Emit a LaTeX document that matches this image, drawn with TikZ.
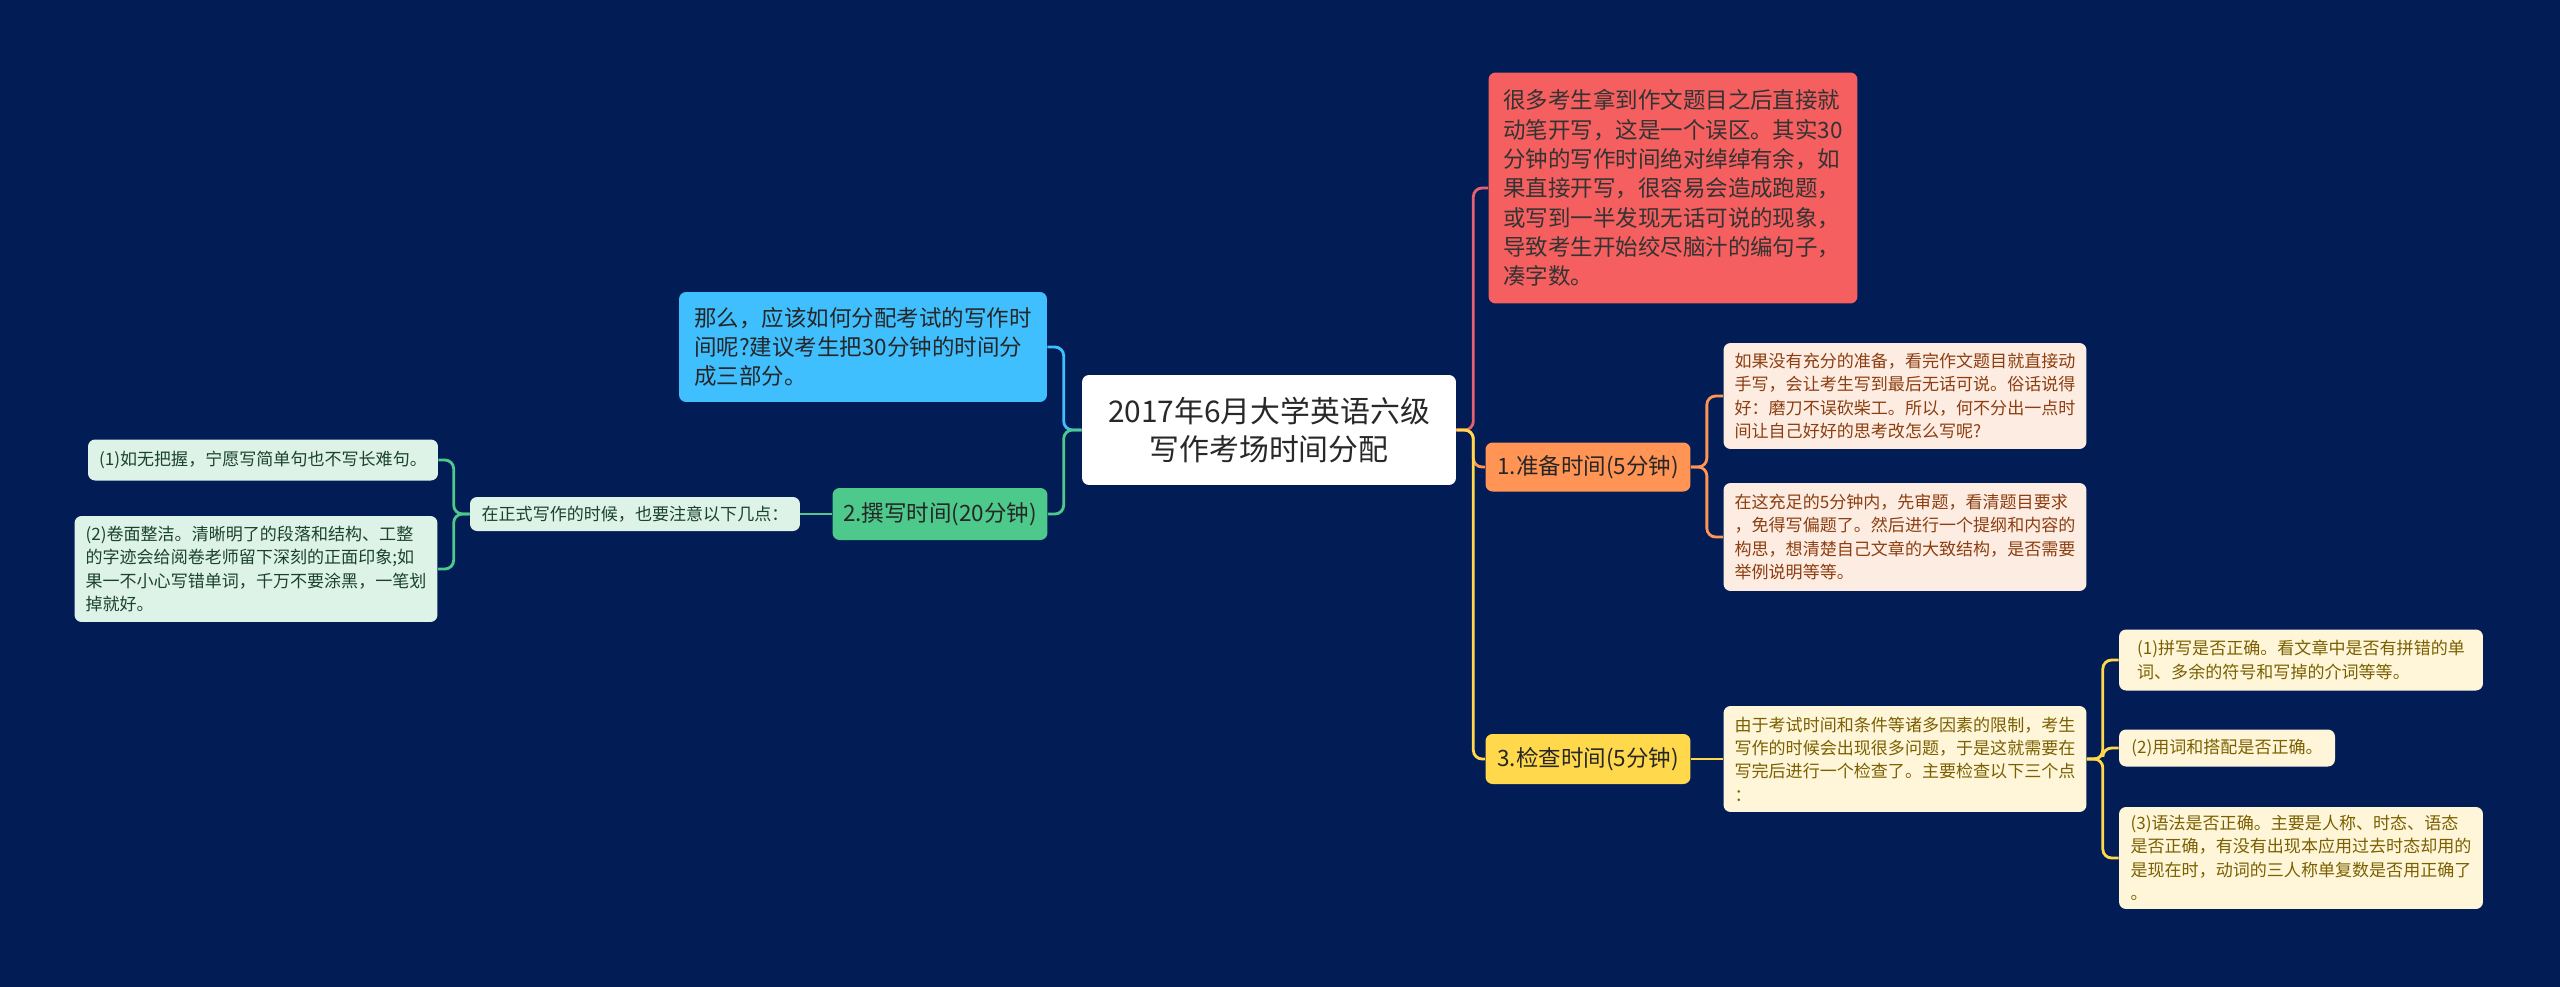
\documentclass[tikz,border=0pt]{standalone}
\usepackage{fontspec}
\setmainfont{Noto Sans CJK SC}
\definecolor{navybg}{RGB}{2, 28, 85}
\definecolor{rootgray}{RGB}{40, 40, 40}
\definecolor{skyblue}{RGB}{64, 191, 255}
\definecolor{mintgreen}{RGB}{76, 201, 139}
\definecolor{mintleaf}{RGB}{221, 243, 231}
\definecolor{mintink}{RGB}{28, 66, 46}
\definecolor{coralred}{RGB}{245, 95, 95}
\definecolor{redline}{RGB}{230, 96, 112}
\definecolor{orange1}{RGB}{255, 148, 84}
\definecolor{peachleaf}{RGB}{253, 236, 226}
\definecolor{peachink}{RGB}{140, 62, 16}
\definecolor{yellow1}{RGB}{255, 216, 76}
\definecolor{creamleaf}{RGB}{255, 246, 218}
\definecolor{creamink}{RGB}{122, 96, 0}

\begin{document}
\begin{tikzpicture}[x=0.02cm, y=-0.02cm,
  tbox/.style={rounded corners=4pt, align=left, inner xsep=6pt, inner ysep=4pt},
  midtext/.style={font=\fontsize{12.8}{16.7}\selectfont},
  leaftext/.style={font=\fontsize{9.7}{13.3}\selectfont},
  link/.style={line width=1.6pt, rounded corners=5pt}
]
  \fill[navybg] (0,0) rectangle (2560,987);
  \useasboundingbox (0,0) rectangle (2560,987);

  % centre
  \node[tbox, fill=white, text=rootgray, align=center, font=\fontsize{17}{21.3}\selectfont,
        minimum width=7.48cm, minimum height=2.2cm] (root) at (1269,430)
    {2017年6月大学英语六级\\写作考场时间分配};

  % left side
  \node[tbox, midtext, fill=skyblue, text=black!85, minimum width=7.36cm, minimum height=2.2cm] (plan) at (863,347) {
    那么，应该如何分配考试的写作时\\
    间呢?建议考生把30分钟的时间分\\
    成三部分。
  };
  \node[tbox, midtext, fill=mintgreen, text=black!85, minimum width=4.28cm, minimum height=1.04cm] (write) at (940,514) {2.撰写时间(20分钟)};
  \node[tbox, leaftext, fill=mintleaf, text=mintink, minimum width=6.6cm, minimum height=0.68cm] (notice) at (635,514) {在正式写作的时候，也要注意以下几点：};
  \node[tbox, leaftext, fill=mintleaf, text=mintink, minimum width=7.0cm, minimum height=0.82cm] (tipa) at (263,460) {(1)如无把握，宁愿写简单句也不写长难句。};
  \node[tbox, leaftext, fill=mintleaf, text=mintink, minimum width=7.26cm, minimum height=2.12cm] (tipb) at (256,569) {
    (2)卷面整洁。清晰明了的段落和结构、工整\\
    的字迹会给阅卷老师留下深刻的正面印象;如\\
    果一不小心写错单词，千万不要涂黑，一笔划\\
    掉就好。
  };

  % right side
  \node[tbox, midtext, fill=coralred, text=black!80, minimum width=7.38cm, minimum height=4.62cm] (mistake) at (1673,188) {
    很多考生拿到作文题目之后直接就\\
    动笔开写，这是一个误区。其实30\\
    分钟的写作时间绝对绰绰有余，如\\
    果直接开写，很容易会造成跑题，\\
    或写到一半发现无话可说的现象，\\
    导致考生开始绞尽脑汁的编句子，\\
    凑字数。
  };
  \node[tbox, midtext, fill=orange1, text=black!85, minimum width=4.1cm, minimum height=0.98cm] (prep) at (1588,467) {1.准备时间(5分钟)};
  \node[tbox, leaftext, fill=peachleaf, text=peachink, minimum width=7.26cm, minimum height=2.12cm] (prepa) at (1905,396) {
    如果没有充分的准备，看完作文题目就直接动\\
    手写，会让考生写到最后无话可说。俗话说得\\
    好：磨刀不误砍柴工。所以，何不分出一点时\\
    间让自己好好的思考改怎么写呢?
  };
  \node[tbox, leaftext, fill=peachleaf, text=peachink, minimum width=7.26cm, minimum height=2.16cm] (prepb) at (1905,537) {
    在这充足的5分钟内，先审题，看清题目要求\\
    ，免得写偏题了。然后进行一个提纲和内容的\\
    构思，想清楚自己文章的大致结构，是否需要\\
    举例说明等等。
  };
  \node[tbox, midtext, fill=yellow1, text=black!85, minimum width=4.1cm, minimum height=1.0cm] (check) at (1588,759) {3.检查时间(5分钟)};
  \node[tbox, leaftext, fill=creamleaf, text=creamink, minimum width=7.26cm, minimum height=2.12cm] (checkinfo) at (1905,759) {
    由于考试时间和条件等诸多因素的限制，考生\\
    写作的时候会出现很多问题，于是这就需要在\\
    写完后进行一个检查了。主要检查以下三个点\\
    ：
  };
  \node[tbox, leaftext, fill=creamleaf, text=creamink, minimum width=7.28cm, minimum height=1.22cm] (checka) at (2301,660) {
    (1)拼写是否正确。看文章中是否有拼错的单\\
    词、多余的符号和写掉的介词等等。
  };
  \node[tbox, leaftext, fill=creamleaf, text=creamink, minimum width=4.32cm, minimum height=0.74cm] (checkb) at (2227,748) {(2)用词和搭配是否正确。};
  \node[tbox, leaftext, fill=creamleaf, text=creamink, minimum width=7.28cm, minimum height=2.04cm] (checkc) at (2301,858) {
    (3)语法是否正确。主要是人称、时态、语态\\
    是否正确，有没有出现本应用过去时态却用的\\
    是现在时，动词的三人称单复数是否用正确了\\
    。
  };

  % connectors
  \draw[link, redline] (root.east) -- ++(17,0) |- (mistake.west);
  \draw[link, orange1] (root.east) -- ++(17,0) |- (prep.west);
  \draw[link, yellow1] (root.east) -- ++(17,0) |- (check.west);
  \draw[link, skyblue] (root.west) -- ++(-18,0) |- (plan.east);
  \draw[link, mintgreen] (root.west) -- ++(-18,0) |- (write.east);
  \draw[link, mintgreen] (write.west) -- (notice.east);
  \draw[link, mintgreen] (notice.west) -- ++(-16,0) |- (tipa.east);
  \draw[link, mintgreen] (notice.west) -- ++(-16,0) |- (tipb.east);
  \draw[link, orange1] (prep.east) -- ++(16,0) |- (prepa.west);
  \draw[link, orange1] (prep.east) -- ++(16,0) |- (prepb.west);
  \draw[link, yellow1] (check.east) -- (checkinfo.west);
  \draw[link, yellow1] (checkinfo.east) -- ++(16,0) |- (checka.west);
  \draw[link, yellow1] (checkinfo.east) -- ++(16,0) |- (checkb.west);
  \draw[link, yellow1] (checkinfo.east) -- ++(16,0) |- (checkc.west);
\end{tikzpicture}
\end{document}
